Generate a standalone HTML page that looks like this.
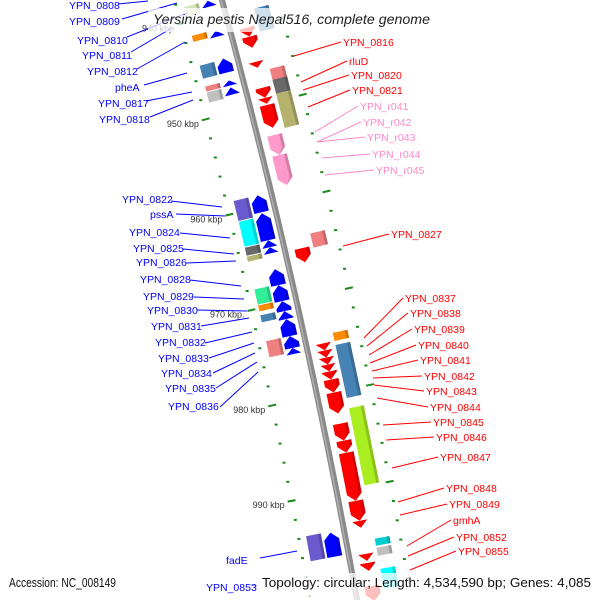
<!DOCTYPE html>
<html><head><meta charset="utf-8"><style>
html,body{margin:0;padding:0;background:#fff}
svg{display:block}
text{font-family:"Liberation Sans",sans-serif}
</style></head><body>
<svg id="map" width="600" height="600" viewBox="0 0 600 600">
<g id="ticks"></g>
<g id="genes"></g>
<g id="backbone-layer"></g>
<g id="labels"></g>
<rect x="148" y="8" width="290" height="24" fill="#fff" opacity="0.75"/>
<text x="153" y="24" font-size="14" font-style="italic" fill="#222" textLength="277" lengthAdjust="spacingAndGlyphs">Yersinia pestis Nepal516, complete genome</text>
<rect x="4" y="573" width="118" height="20" fill="#fff" opacity="0.75"/>
<text x="9" y="587" font-size="12.5" fill="#111" textLength="107" lengthAdjust="spacingAndGlyphs">Accession: NC_008149</text>
<rect x="257" y="573" width="340" height="27" fill="#fff" opacity="0.75"/>
<text x="262" y="587" font-size="12.5" fill="#111" textLength="329" lengthAdjust="spacingAndGlyphs">Topology: circular; Length: 4,534,590 bp; Genes: 4,085</text>
</svg>
<script>
// ---- data ----
const rightArrowStart = [942.08,943.02,945.63,948.33,949.38,950.11,953.23,955.31,965.0,974.9,975.63,976.36,977.09,977.81,978.65,980.0,983.23,985.0,986.25,991.25,993.33,996.77,997.71,1000.11];
const rightArrowEnd   = [943.02,944.17,946.25,949.38,950.0,952.5,955.31,958.44,966.46,975.63,976.36,977.09,977.81,978.65,980.0,982.19,985.0,986.25,991.25,993.33,994.06,997.5,998.54,1001.66];
const rightArrowColor = ["#f00","#f00","#f00","#f00","#f00","#f00","#ff99cc","#ff99cc","#f00","#f00","#f00","#f00","#f00","#f00","#f00","#f00","#f00","#f00","#f00","#f00","#f00","#f00","#f00","#f00"];
const rightBoxStart = [940.42,946.67,947.81,949.27,963.75,974.06,975.31,981.87,995.42,996.35,998.54];
const rightBoxEnd   = [942.81,948.13,949.27,952.81,965.21,974.9,980.83,989.9,996.15,997.19,1000.6];
const rightBoxColor = ["#4682b4","#f08080","#696969","#b5b26e","#f08080","#ff8c00","#4682b4","#aaee22","#00ced1","#c0c0c0","#00ffff"];
const leftArrowStart = [938.44,941.56,944.48,946.77,947.5,958.75,960.63,963.44,964.17,966.46,968.13,969.79,970.84,971.67,973.44,974.69,993.96];
const leftArrowEnd   = [939.06,942.19,945.94,947.29,948.23,960.52,963.44,964.17,964.79,968.13,969.79,970.84,971.67,973.44,974.69,975.31,996.46];
const leftBoxStart = [938.44,941.46,944.58,946.77,947.4,958.75,960.94,963.65,964.58,968.02,969.69,970.73,973.44,993.86];
const leftBoxEnd   = [939.38,942.09,945.94,947.29,948.44,960.84,963.54,964.48,965.11,969.59,970.31,971.46,975.11,996.46];
const leftBoxColor = ["#d4e2b8","#ff8c00","#4682b4","#f08080","#c0c0c0","#6a5acd","#00ffff","#696969","#b5b26e","#33ee99","#ff8c00","#4682b4","#f08080","#6a5acd"];
const minorTicks = [938,940,942,944,946,948,952,954,956,958,962,964,966,968,972,974,976,978,982,984,986,988,992,994,996,998,1000];
const majorTicks = [940,950,960,970,980,990];
const majorTickLabels = ["940 kbp","950 kbp","960 kbp","970 kbp.","980 kbp","990 kbp"];

// ---- geometry ----
const NS = "http://www.w3.org/2000/svg";
const Y0 = 108, PXK = 9.6;
function yOf(k){ return Y0 + (k - 950) * PXK; }
function xOf(y){ return 222 + 0.27 * y - 0.000075 * y * y; }
function angOf(y){ return Math.atan(0.27 - 0.00015 * y); }
function frame(k){ const y = yOf(k); const a = angOf(y); return {x: xOf(y), y: y, a: a}; }
function pt(f, d, t){ return [f.x + d*Math.cos(f.a) + t*Math.sin(f.a), f.y - d*Math.sin(f.a) + t*Math.cos(f.a)]; }
function mk(tag, attrs, parent){ const e = document.createElementNS(NS, tag); for (const k in attrs) e.setAttribute(k, attrs[k]); parent.appendChild(e); return e; }

const gTicks = document.getElementById("ticks");
const gGenes = document.getElementById("genes");
const gBack = document.getElementById("backbone-layer");
const gLab = document.getElementById("labels");

(function(){
  let p = "";
  for (let y = -10; y <= 610; y += 10) { p += (y === -10 ? "M" : "L") + xOf(y).toFixed(1) + " " + y; }
  const b = mk("path", {d: p, stroke: "#8a8a8a", "stroke-width": 6, fill: "none"}, gBack);
  
  
  const h = mk("path", {d: p, stroke: "#b0b0b0", "stroke-width": 1.5, fill: "none", transform: "translate(-1,0)"}, gBack);
  
  
})();

function polyAt(f, pts){ return pts.map(p => pt(f, p[0], p[1]).map(v => v.toFixed(1)).join(",")).join(" "); }

function drawArrow(k1, k2, d, w, color, down, name){
  const f = frame((k1 + k2) / 2);
  const L = (k2 - k1) * PXK / Math.cos(f.a);
  const h = Math.min(7, L), hw = w/2, t0 = -L/2, t1 = L/2;
  let pts;
  if (down) pts = [[d-hw,t0],[d+hw,t0],[d+hw,t1-h],[d,t1],[d-hw,t1-h]];
  else pts = [[d-hw,t1],[d+hw,t1],[d+hw,t0+h],[d,t0],[d-hw,t0+h]];
  const e = mk("polygon", {points: polyAt(f, pts), fill: color}, gGenes);
  
  
  let sp;
  if (down) sp = [[d+hw-3,t0],[d+hw,t0],[d+hw,t1-h],[d,t1],[d+hw-3,t1-h]];
  else sp = [[d+hw-3,t1],[d+hw,t1],[d+hw,t0+h],[d+hw-3,t0+h*0.6]];
  const s = mk("polygon", {points: polyAt(f, sp), fill: "#000", opacity: 0.18}, gGenes);
  
  
}
function drawBox(k1, k2, d, w, color, name){
  const f = frame((k1 + k2) / 2);
  const L = (k2 - k1) * PXK / Math.cos(f.a);
  const hw = w/2;
  const e = mk("polygon", {points: polyAt(f, [[d-hw,-L/2],[d+hw,-L/2],[d+hw,L/2],[d-hw,L/2]]), fill: color}, gGenes);
  
  
  const s = mk("polygon", {points: polyAt(f, [[d+hw-3,-L/2],[d+hw,-L/2],[d+hw,L/2],[d+hw-3,L/2]]), fill: "#000", opacity: 0.18}, gGenes);
  
  
}

rightArrowStart.forEach((s, i) => drawArrow(s, rightArrowEnd[i], 17, 15, rightArrowColor[i], true, "reverse-gene-" + i));
rightBoxStart.forEach((s, i) => drawBox(s, rightBoxEnd[i], 36, 15, rightBoxColor[i], "reverse-cog-box-" + i));
leftArrowStart.forEach((s, i) => drawArrow(s, leftArrowEnd[i], -14, 15, "#0000ff", false, "forward-gene-" + i));
leftBoxStart.forEach((s, i) => drawBox(s, leftBoxEnd[i], -31, 15, leftBoxColor[i], "forward-cog-box-" + i));

minorTicks.forEach((k, i) => {
  [-46, 54].forEach(d => {
    const f = frame(k);
    const p = pt(f, d, 0);
    const e = mk("rect", {x: (p[0]-1.5).toFixed(1), y: (p[1]-1).toFixed(1), width: 3, height: 2, fill: "#1a8a1a"}, gTicks);
    
    
  });
});
majorTicks.forEach((k, i) => {
  const f = frame(k);
  [-46, 54].forEach(d => {
    const a = pt(f, d-4, 0), b = pt(f, d+4, 0);
    const e = mk("line", {x1: a[0], y1: a[1], x2: b[0], y2: b[1], stroke: "#1a8a1a", "stroke-width": 2}, gTicks);
    
    
  });
  const lp = pt(f, -53, 0);
  const t = mk("text", {x: lp[0].toFixed(1), y: (lp[1]+6).toFixed(1), "font-size": 9, fill: "#333", "text-anchor": "end", "font-family": "DejaVu Sans, sans-serif"}, gTicks);
  t.textContent = majorTickLabels[i];
  
  
});

const labelNames = ["YPN_0808","YPN_0809","YPN_0810","YPN_0811","YPN_0812","pheA","YPN_0817","YPN_0818","YPN_0822","pssA","YPN_0824","YPN_0825","YPN_0826","YPN_0828","YPN_0829","YPN_0830","YPN_0831","YPN_0832","YPN_0833","YPN_0834","YPN_0835","YPN_0836","fadE","YPN_0853",
"YPN_0816","rluD","YPN_0820","YPN_0821","YPN_r041","YPN_r042","YPN_r043","YPN_r044","YPN_r045","YPN_0827","YPN_0837","YPN_0838","YPN_0839","YPN_0840","YPN_0841","YPN_0842","YPN_0843","YPN_0844","YPN_0845","YPN_0846","YPN_0847","YPN_0848","YPN_0849","gmhA","YPN_0852","YPN_0855"];
const labelX = [69,69,77,82,87,115,98,99,122,150,129,133,136,140,143,147,151,155,158,161,165,168,226,206,
343,349,351,352,360,363,367,372,376,391,405,410,414,418,420,424,426,430,433,436,440,446,449,453,456,458];
const labelY = [5,21,40,55,71,87,103,119,199,214,232,248,262,279,296,310,326,342,358,373,388,406,560,587,
42,61,75,90,106,122,137,154,170,234,298,313,329,345,360,376,391,407,422,437,457,488,504,520,537,551];
const lineFrom = [[118,4],[122,19],[127,37],[131,52],[137,69],[144,85],[146,101],[150,117],[171,201],[176,214],[180,233],[183,249],[186,263],[190,280],[194,297],[197,310],[201,326],[205,343],[209,358],[213,373],[216,388],[220,407],[260,558],[258,586],
[341,42],[347,61],[349,75],[350,90],[358,106],[361,122],[365,137],[370,154],[374,170],[389,234],[403,298],[408,313],[412,329],[416,345],[418,360],[422,376],[424,391],[428,407],[431,422],[434,437],[438,457],[444,488],[447,504],[451,520],[454,537],[456,551]];
const lineTo = [[148,1],[177,3],[187,13],[172,28],[185,42],[187,73],[192,92],[193,100],[222,207],[225,216],[230,238],[234,254],[236,261],[241,286],[244,299],[247,311],[249,318],[252,332],[254,343],[255,353],[257,362],[258,372],[297,551],[250,585],
[294,56],[301,82],[303,90],[308,107],[315,132],[317,142],[317,142],[322,158],[325,175],[343,246],[364,338],[367,346],[369,355],[370,363],[372,371],[373,378],[374,385],[377,398],[383,425],[386,440],[392,468],[398,502],[400,515],[407,546],[408,556],[410,570]];
labelNames.forEach((n, i) => {
  const left = i < 24;
  const pink = n.indexOf("_r0") > 0;
  const col = left ? "#0000ff" : (pink ? "#ff88c8" : "#ff0000");
  const ln = mk("line", {x1: lineFrom[i][0], y1: lineFrom[i][1], x2: lineTo[i][0], y2: lineTo[i][1], stroke: col, "stroke-width": 1, opacity: (i===23?0.4:1)}, gLab);
  
  
  const t = mk("text", {x: labelX[i], y: labelY[i] + 4, "font-size": 10.5, fill: col}, gLab);
  t.textContent = n;
  
  
});
</script>
</body></html>
